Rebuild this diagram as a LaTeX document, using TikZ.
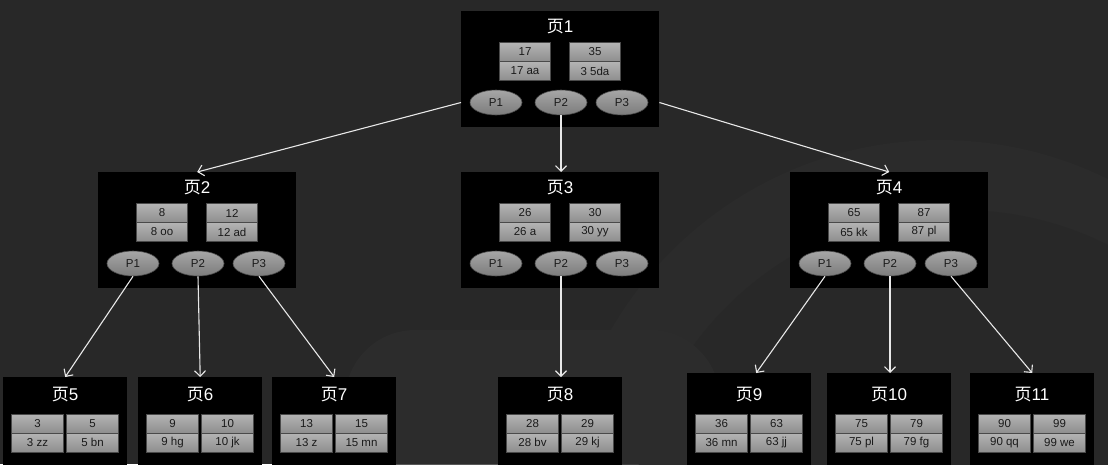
\documentclass[tikz,border=0pt]{standalone}
\usepackage{fontspec}
\setmainfont{Liberation Sans}
\newfontfamily\cjk{Noto Sans CJK SC}
\usetikzlibrary{arrows.meta,shapes.geometric}
\definecolor{bg}{HTML}{282828}
\definecolor{bgB}{HTML}{2D2D2D}
\definecolor{cellTop}{HTML}{B4B4B4}
\definecolor{cellBot}{HTML}{8E8E8E}
\definecolor{cellLine}{HTML}{4A4A4A}
\definecolor{cellText}{HTML}{1A1A1A}
\definecolor{ellTop}{HTML}{A6A6A6}
\definecolor{ellBot}{HTML}{7C7C7C}
\definecolor{linkCol}{HTML}{E8E8E8}
\tikzset{
  pagebox/.style={fill=black, draw=none, inner sep=0pt, anchor=north west},
  ptitle/.style={text=white, font=\fontsize{17}{19}\selectfont, inner sep=0pt},
  cell/.style={draw=cellLine, line width=0.7pt, top color=cellTop, bottom color=cellBot,
    text=cellText, font=\fontsize{11.5}{13}\selectfont, inner sep=0pt, minimum height=19pt},
  ptr/.style={ellipse, draw=cellLine, line width=0.6pt, top color=ellTop, bottom color=ellBot,
    text=cellText, font=\fontsize{11.5}{13}\selectfont, inner sep=0pt,
    minimum width=52pt, minimum height=25pt},
  link/.style={draw=linkCol, line width=1.1pt, -{Straight Barb[length=5.5pt,width=11pt]}}
}
% upper page: name, left, top, number, key1, val1, key2, val2
\newcommand\UpPage[8]{%
  \begin{scope}[shift={(#2,#3)}]
    \node[pagebox, minimum width=198pt, minimum height=116pt] (#1) at (0,0) {};
    \node[ptitle] (#1t) at (99,16) {{\cjk 页}#4};
    \node[cell, minimum width=51pt] (#1k1) at (64,41) {#5};
    \node[cell, minimum width=51pt] (#1v1) at (64,60) {#6};
    \node[cell, minimum width=51pt] (#1k2) at (134,41) {#7};
    \node[cell, minimum width=51pt] (#1v2) at (134,60) {#8};
    \node[ptr] (#1a) at (35,91.5) {P1};
    \node[ptr] (#1b) at (100,91.5) {P2};
    \node[ptr] (#1c) at (161,91.5) {P3};
  \end{scope}}
% lower page: name, left, top, number, key1, val1, key2, val2
\newcommand\LowPage[8]{%
  \begin{scope}[shift={(#2,0)}]
    \node[pagebox, minimum width=124pt, minimum height=100pt] (#1) at (0,#3) {};
    \node[ptitle] (#1t) at (62,394.5) {{\cjk 页}#4};
    \node[cell, minimum width=52pt] (#1k1) at (34.5,423.5) {#5};
    \node[cell, minimum width=52pt] (#1v1) at (34.5,442.5) {#6};
    \node[cell, minimum width=52pt] (#1k2) at (89.5,423.5) {#7};
    \node[cell, minimum width=52pt] (#1v2) at (89.5,442.5) {#8};
  \end{scope}}
\begin{document}
\begin{tikzpicture}[x=1pt,y=-1pt]
  \useasboundingbox (0,0) rectangle (1108,464);
  % background
  \fill[bg] (0,0) rectangle (1108,464);
  \begin{scope}
    \clip (0,0) rectangle (1108,464);
    \fill[bgB, opacity=0.6] (940,520) circle[radius=380];
    \fill[bg] (960,540) circle[radius=330];
    \fill[bgB, opacity=0.8, rounded corners=70pt] (345,330) rectangle (720,520);
  \end{scope}
  % pages
  \UpPage{p1}{461}{11}{1}{17}{17 aa}{35}{3 5da}
  \UpPage{p2}{98}{172}{2}{8}{8 oo}{12}{12 ad}
  \UpPage{p3}{461}{172}{3}{26}{26 a}{30}{30 yy}
  \UpPage{p4}{790}{172}{4}{65}{65 kk}{87}{87 pl}
  \LowPage{p5}{3}{377}{5}{3}{3 zz}{5}{5 bn}
  \LowPage{p6}{138}{377}{6}{9}{9 hg}{10}{10 jk}
  \LowPage{p7}{272}{377}{7}{13}{13 z}{15}{15 mn}
  \LowPage{p8}{498}{377}{8}{28}{28 bv}{29}{29 kj}
  \LowPage{p9}{687}{373}{9}{36}{36 mn}{63}{63 jj}
  \LowPage{p10}{827}{373}{10}{75}{75 pl}{79}{79 fg}
  \LowPage{p11}{970}{373}{11}{90}{90 qq}{99}{99 we}
  % links
  \draw[link] (p1.west |- p1a.center) -- (p2.north);
  \draw[link] (p1b.south) -- (p1b.south |- p3.north);
  \draw[link] (p1.east |- p1c.center) -- (p4.north);
  \draw[link] (p2a.south) -- (p5.north);
  \draw[link] (p2b.south) -- (p6.north);
  \draw[link] (p2c.south) -- (p7.north);
  \draw[link] (p3b.south) -- (p3b.south |- p8.north);
  \draw[link] (p4a.south) -- ([xshift=7pt]p9.north);
  \draw[link] (p4b.south) -- (p4b.south |- p10.north);
  \draw[link] (p4c.south) -- (p11.north);
\end{tikzpicture}
\end{document}
